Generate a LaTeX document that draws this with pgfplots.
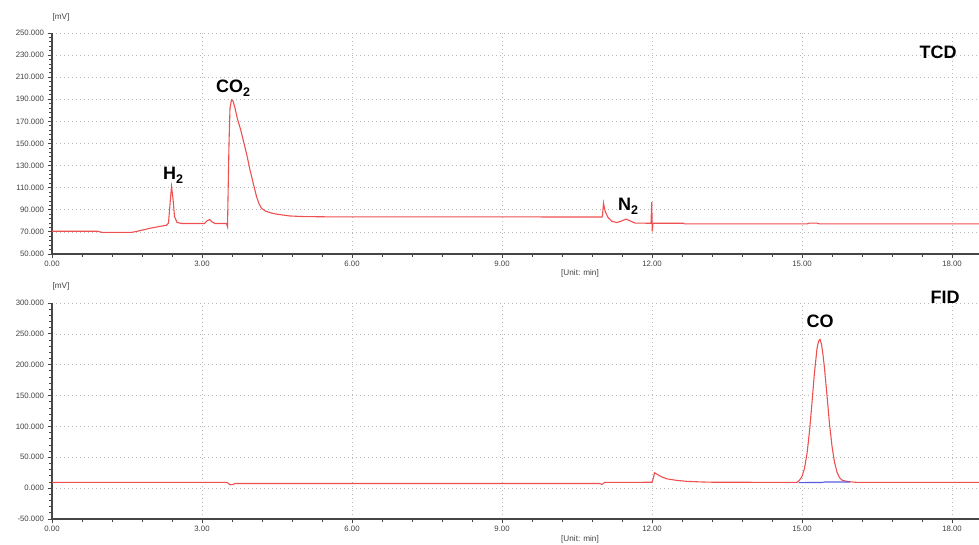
\documentclass[border=0pt]{standalone}
\usepackage{pgfplots}
\pgfplotsset{compat=1.18}
\usepackage{fontspec}
\setmainfont{Liberation Sans}
\definecolor{sig}{RGB}{238,80,80}
\definecolor{base}{RGB}{90,90,225}
\definecolor{axc}{RGB}{70,70,70}
\tikzset{lbl/.style={font=\fontsize{18}{20}\selectfont\bfseries, text=black},
  unit/.style={font=\fontsize{8.2}{8}\selectfont, text=black!75}}
\newcommand{\sub}[1]{\raisebox{-0.45ex}{\fontsize{12.5}{13}\selectfont #1}}
\pgfplotsset{
  chrom/.style={
    scale only axis, width=927pt, xmin=0, xmax=18.54,
    axis x line*=bottom, axis y line*=left,
    xtick={0,3,...,18}, minor x tick num=4,
    grid=major, major grid style={dash pattern=on 1.3pt off 2.7pt, black!28, line width=0.7pt},
    tick align=outside, major tick length=4.5pt, minor tick length=3pt,
    every tick/.style={axc, line width=0.8pt},
    axis line style={axc, line width=1.2pt},
    tick label style={font=\fontsize{7.8}{8}\selectfont, text=black!75},
    xticklabel style={yshift=1pt},
    x tick label style={/pgf/number format/.cd, fixed, fixed zerofill, precision=2, assume math mode=true},
    y tick label style={/pgf/number format/.cd, fixed, fixed zerofill, precision=3, assume math mode=true},
    minor y tick num=4,
    clip=false,
  },
}
\begin{document}
\begin{tikzpicture}[x=1pt,y=1pt]
\useasboundingbox (0,0) rectangle (979,545);
\begin{axis}[chrom, at={(52pt,291pt)}, anchor=south west, height=221pt,
  ymin=50, ymax=250, ytick={50,70,...,250}]
\addplot[sig, line width=1.1pt] coordinates {
(0,70.6) (0.9,70.6) (1.0,69.6) (1.6,69.6) (1.75,71) (1.95,73.2) (2.1,74.5) (2.29,76)
(2.33,78) (2.36,95) (2.39,111) (2.42,100) (2.45,84) (2.5,78.5) (2.6,77.6) (3.05,77.6)
(3.1,80) (3.15,81.2) (3.2,79) (3.26,77.6) (3.49,77.6) (3.51,74.7) (3.52,100) (3.54,150)
(3.56,182) (3.59,189.5) (3.62,188.5) (3.66,182) (3.71,172) (3.77,163) (3.83,152) (3.9,139) (3.96,126)
(4.03,113) (4.09,102) (4.14,95.5) (4.19,91.4) (4.27,88.8) (4.36,87.4) (4.5,86) (4.76,84.4) (5.0,83.9) (5.56,83.6)
(11.0,83.5) (11.01,85) (11.03,96) (11.06,89) (11.12,83) (11.2,79.5) (11.3,78.5) (11.4,80)
(11.48,81.6) (11.56,80) (11.66,78) (11.98,77.8) (11.995,97) (12.005,70.5) (12.02,77.8)
(12.63,77.8) (12.65,77.2) (15.1,77.2) (15.15,77.9) (15.3,77.9) (15.35,77.2) (18.54,77.2)
};
\node[lbl] at (axis cs:2.42,121) {H\sub{2}};
\node[lbl] at (axis cs:3.62,200) {CO\sub{2}};
\node[lbl] at (axis cs:11.52,93.4) {N\sub{2}};
\node[lbl] at (axis cs:17.72,232.8) {TCD};
\end{axis}
\node[unit] at (61,528) {[mV]};
\node[unit] at (580,272) {[Unit: min]};
\begin{axis}[chrom, at={(52pt,26pt)}, anchor=south west, height=216pt,
  ymin=-50, ymax=300, ytick={-50,0,...,300}]
\addplot[sig, line width=1.1pt] coordinates {
(0,9.3) (3.5,9.3) (3.56,5.5) (3.62,5.8) (3.66,7.5) (10.95,7.5) (11.0,6) (11.05,9.3)
(12.0,9.5) (12.03,17) (12.05,25) (12.1,22.5) (12.2,18) (12.3,15) (12.5,12.5) (12.7,11)
(13.0,10) (13.2,9.6) (14.9,9.3) (14.95,12.9) (15.0,19) (15.05,32) (15.1,56) (15.15,92)
(15.2,139) (15.25,188) (15.3,226) (15.33,238) (15.36,241) (15.39,233) (15.42,216) (15.45,194) (15.5,150) (15.55,104)
(15.6,68) (15.65,42) (15.7,26) (15.75,17) (15.8,13) (15.9,10.8) (16.0,10) (16.1,9.3) (18.54,9.3)
};
\addplot[base, line width=1.1pt] coordinates {(14.93,9) (15.4,9.2) (15.45,10) (15.96,10)};
\node[lbl] at (axis cs:15.36,269.7) {CO};
\node[lbl] at (axis cs:17.86,308.8) {FID};
\end{axis}
\node[unit] at (61,259) {[mV]};
\node[unit] at (580,6) {[Unit: min]};
\end{tikzpicture}
\end{document}
